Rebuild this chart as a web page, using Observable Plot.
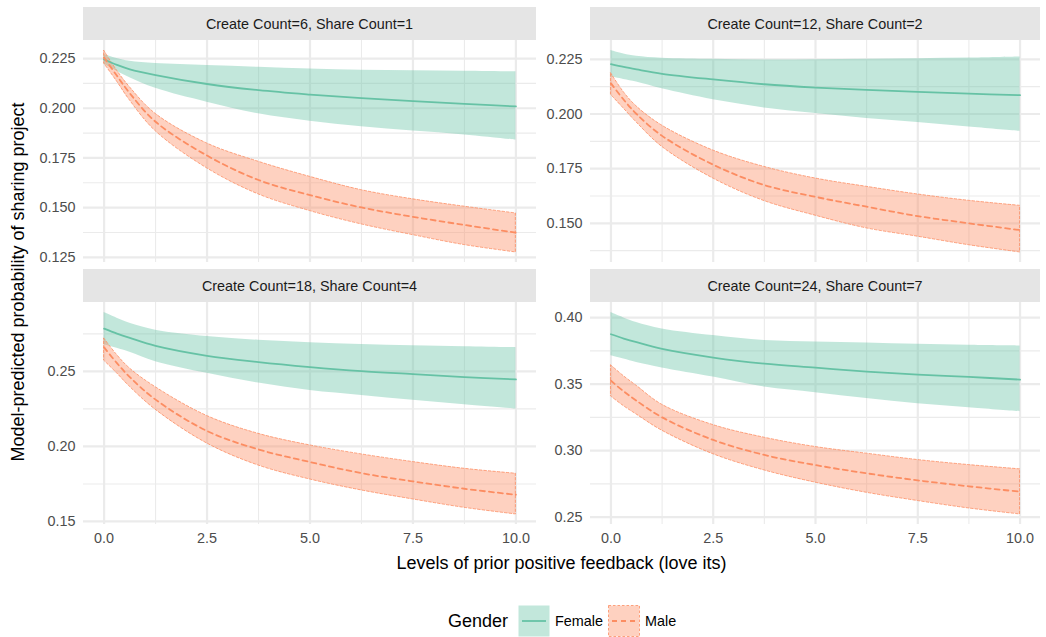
<!DOCTYPE html>
<html>
<head>
<meta charset="utf-8">
<script src="https://cdn.jsdelivr.net/npm/d3@7"></script>
<script src="https://cdn.jsdelivr.net/npm/@observablehq/plot@0.6"></script>
<style>
  html, body { margin: 0; padding: 0; background: #ffffff; }
  body { font-family: "Liberation Sans", Arial, Helvetica, sans-serif; }
  #chart { position: relative; width: 1046px; height: 637px; overflow: hidden; }
  .strip { position: absolute; background: #e5e5e5; color: #1a1a1a; font-size: 14.4px;
           display: flex; align-items: center; justify-content: center; }
  .panel { position: absolute; }
  .ytitle { position: absolute; width: 600px; height: 22px; line-height: 22px; text-align: center;
            font-size: 18px; color: #000; transform: rotate(-90deg); }
  .xtitle { position: absolute; height: 22px; line-height: 22px; text-align: center; font-size: 18px; color: #000; }
  .legend { position: absolute; top: 605px; left: 448px; height: 32px; display: flex; align-items: center; }
  .legend .ttl { font-size: 18px; color: #000; margin-right: 10px; }
  .legend .lab { font-size: 14.4px; color: #000; margin: 0 5px 0 5px; }
  .legend svg { display: block; }
</style>
</head>
<body>
<div id="chart"></div>
<script>
// ---------------- data ----------------
const feedback = [0, 0.3125, 0.625, 1.25, 2.5, 3.75, 5, 6.25, 7.5, 8.75, 10];
const panelTitles = [
  "Create Count=6, Share Count=1",
  "Create Count=12, Share Count=2",
  "Create Count=18, Share Count=4",
  "Create Count=24, Share Count=7"
];
const genders = ["Female", "Male"];

// Panel 1: Create Count=6, Share Count=1
const p1FemaleFit = [0.2245, 0.2218, 0.2196, 0.2167, 0.2122, 0.2091, 0.2069, 0.2051, 0.2036, 0.2022, 0.2009];
const p1FemaleLo  = [0.2222, 0.2186, 0.2153, 0.2100, 0.2030, 0.1972, 0.1935, 0.1907, 0.1885, 0.1866, 0.1840];
const p1FemaleHi  = [0.2270, 0.2250, 0.2236, 0.2225, 0.2215, 0.2206, 0.2197, 0.2191, 0.2188, 0.2186, 0.2183];
const p1MaleFit   = [0.2255, 0.2163, 0.2075, 0.1932, 0.1762, 0.1639, 0.1563, 0.1501, 0.1454, 0.1413, 0.1374];
const p1MaleLo    = [0.2225, 0.2135, 0.2040, 0.1885, 0.1698, 0.1567, 0.1483, 0.1416, 0.1362, 0.1312, 0.1275];
const p1MaleHi    = [0.2290, 0.2190, 0.2106, 0.1972, 0.1823, 0.1731, 0.1655, 0.1588, 0.1542, 0.1505, 0.1471];

// Panel 2: Create Count=12, Share Count=2
const p2FemaleFit = [0.2228, 0.2215, 0.2204, 0.2184, 0.2158, 0.2136, 0.2121, 0.2110, 0.2101, 0.2093, 0.2086];
const p2FemaleLo  = [0.2170, 0.2158, 0.2146, 0.2115, 0.2065, 0.2028, 0.2002, 0.1979, 0.1961, 0.1941, 0.1921];
const p2FemaleHi  = [0.2290, 0.2274, 0.2264, 0.2255, 0.2250, 0.2247, 0.2248, 0.2250, 0.2253, 0.2256, 0.2261];
const p2MaleFit   = [0.2140, 0.2065, 0.2000, 0.1900, 0.1768, 0.1675, 0.1621, 0.1576, 0.1533, 0.1500, 0.1469];
const p2MaleLo    = [0.2088, 0.2025, 0.1962, 0.1850, 0.1705, 0.1602, 0.1535, 0.1477, 0.1439, 0.1400, 0.1367];
const p2MaleHi    = [0.2187, 0.2100, 0.2035, 0.1947, 0.1833, 0.1758, 0.1705, 0.1667, 0.1632, 0.1603, 0.1580];

// Panel 3: Create Count=18, Share Count=4
const p3FemaleFit = [0.2785, 0.2752, 0.2723, 0.2670, 0.2604, 0.2562, 0.2529, 0.2502, 0.2482, 0.2462, 0.2447];
const p3FemaleLo  = [0.2680, 0.2654, 0.2628, 0.2565, 0.2487, 0.2422, 0.2373, 0.2340, 0.2307, 0.2278, 0.2249];
const p3FemaleHi  = [0.2892, 0.2855, 0.2821, 0.2775, 0.2733, 0.2707, 0.2691, 0.2680, 0.2671, 0.2664, 0.2658];
const p3MaleFit   = [0.2660, 0.2555, 0.2462, 0.2312, 0.2103, 0.1980, 0.1896, 0.1822, 0.1767, 0.1718, 0.1678];
const p3MaleLo    = [0.2572, 0.2488, 0.2398, 0.2245, 0.2020, 0.1873, 0.1780, 0.1707, 0.1647, 0.1591, 0.1547];
const p3MaleHi    = [0.2720, 0.2610, 0.2520, 0.2395, 0.2203, 0.2084, 0.2007, 0.1947, 0.1896, 0.1851, 0.1818];

// Panel 4: Create Count=24, Share Count=7
const p4FemaleFit = [0.3875, 0.3843, 0.3815, 0.3765, 0.3700, 0.3654, 0.3624, 0.3594, 0.3571, 0.3554, 0.3534];
const p4FemaleLo  = [0.3713, 0.3688, 0.3663, 0.3622, 0.3553, 0.3478, 0.3436, 0.3391, 0.3353, 0.3323, 0.3293];
const p4FemaleHi  = [0.4038, 0.3998, 0.3963, 0.3915, 0.3865, 0.3828, 0.3817, 0.3809, 0.3799, 0.3792, 0.3787];
const p4MaleFit   = [0.3525, 0.3445, 0.3375, 0.3250, 0.3080, 0.2967, 0.2891, 0.2829, 0.2776, 0.2731, 0.2691];
const p4MaleLo    = [0.3408, 0.3335, 0.3272, 0.3150, 0.2973, 0.2851, 0.2759, 0.2683, 0.2621, 0.2565, 0.2520];
const p4MaleHi    = [0.3642, 0.3560, 0.3488, 0.3345, 0.3192, 0.3097, 0.3027, 0.2977, 0.2929, 0.2891, 0.2859];

// Axis ticks and labels
const xTicks = [0, 2.5, 5, 7.5, 10];
const xTickLabels = ["0.0", "2.5", "5.0", "7.5", "10.0"];
const xMinor = [1.25, 3.75, 6.25, 8.75];

const p1YTicks = [0.125, 0.15, 0.175, 0.2, 0.225];
const p1YLabels = ["0.125", "0.150", "0.175", "0.200", "0.225"];
const p1YMinor = [0.1125, 0.1375, 0.1625, 0.1875, 0.2125, 0.2375];
const p2YTicks = [0.15, 0.175, 0.2, 0.225];
const p2YLabels = ["0.150", "0.175", "0.200", "0.225"];
const p2YMinor = [0.1375, 0.1625, 0.1875, 0.2125, 0.2375];
const p3YTicks = [0.15, 0.2, 0.25];
const p3YLabels = ["0.15", "0.20", "0.25"];
const p3YMinor = [0.175, 0.225, 0.275];
const p4YTicks = [0.25, 0.3, 0.35, 0.4];
const p4YLabels = ["0.25", "0.30", "0.35", "0.40"];
const p4YMinor = [0.275, 0.325, 0.375];

const colFemale = "#66c2a5";
const colMale = "#fc8d62";

// ---------------- build ----------------
function rowsFor(fit, lo, hi, g) {
  return feedback.map((xv, i) => ({ x: xv, fit: fit[i], lo: lo[i], hi: hi[i], gender: g }));
}

const panels = [
  { title: panelTitles[0], f: rowsFor(p1FemaleFit, p1FemaleLo, p1FemaleHi, genders[0]), m: rowsFor(p1MaleFit, p1MaleLo, p1MaleHi, genders[1]),
    ticks: p1YTicks, labels: p1YLabels, minor: p1YMinor, col: 0, row: 0 },
  { title: panelTitles[1], f: rowsFor(p2FemaleFit, p2FemaleLo, p2FemaleHi, genders[0]), m: rowsFor(p2MaleFit, p2MaleLo, p2MaleHi, genders[1]),
    ticks: p2YTicks, labels: p2YLabels, minor: p2YMinor, col: 1, row: 0 },
  { title: panelTitles[2], f: rowsFor(p3FemaleFit, p3FemaleLo, p3FemaleHi, genders[0]), m: rowsFor(p3MaleFit, p3MaleLo, p3MaleHi, genders[1]),
    ticks: p3YTicks, labels: p3YLabels, minor: p3YMinor, col: 0, row: 1 },
  { title: panelTitles[3], f: rowsFor(p4FemaleFit, p4FemaleLo, p4FemaleHi, genders[0]), m: rowsFor(p4MaleFit, p4MaleLo, p4MaleHi, genders[1]),
    ticks: p4YTicks, labels: p4YLabels, minor: p4YMinor, col: 1, row: 1 }
];

// layout (px)
const colLeft = [83, 590];
const colRight = [536, 1040];
const colSvgLeft = [0, 536];
const colSvgRight = [536, 1046];
const stripTop = [7, 269];
const stripH = 33;
const panelH = 222;

const chart = document.getElementById("chart");
const curve = "catmull-rom";

panels.forEach(p => {
  const vals = [...p.f, ...p.m].flatMap(d => [d.lo, d.hi]);
  const mn = d3.min(vals), mx = d3.max(vals);
  const pad = (mx - mn) * 0.05;
  const bottom = p.row === 1;
  const svgLeft = colSvgLeft[p.col];
  const width = colSvgRight[p.col] - svgLeft;
  const marginLeft = colLeft[p.col] - svgLeft;
  const marginRight = colSvgRight[p.col] - colRight[p.col];
  const marginBottom = bottom ? 32 : 0;

  const plot = Plot.plot({
    width, height: panelH + marginBottom,
    marginLeft, marginRight, marginTop: 0, marginBottom,
    style: { fontFamily: '"Liberation Sans", Arial, Helvetica, sans-serif', fontSize: "14.4px", color: "#4d4d4d", background: "transparent", overflow: "visible" },
    x: { domain: [-0.5, 10.5], ticks: xTicks, tickFormat: d => xTickLabels[xTicks.indexOf(d)], tickSize: 0, tickPadding: 8, label: null, axis: bottom ? "bottom" : null },
    y: { domain: [mn - pad, mx + pad], ticks: p.ticks, tickFormat: d => p.labels[p.ticks.indexOf(d)], tickSize: 0, tickPadding: 8, label: null },
    marks: [
      Plot.ruleY(p.minor.filter(v => v > mn - pad && v < mx + pad), { stroke: "#ebebeb", strokeWidth: 1.1 }),
      Plot.ruleX(xMinor, { stroke: "#ebebeb", strokeWidth: 1.1 }),
      Plot.ruleY(p.ticks, { stroke: "#ebebeb", strokeWidth: 2.2 }),
      Plot.ruleX(xTicks, { stroke: "#ebebeb", strokeWidth: 2.2 }),
      Plot.areaY(p.f, { x: "x", y1: "lo", y2: "hi", fill: colFemale, fillOpacity: 0.4, curve }),
      Plot.areaY(p.m, { x: "x", y1: "lo", y2: "hi", fill: colMale, fillOpacity: 0.4, stroke: colMale, strokeWidth: 0.8, strokeDasharray: "2.5,2", curve }),
      Plot.lineY(p.f, { x: "x", y: "fit", stroke: colFemale, strokeWidth: 1.8, curve }),
      Plot.lineY(p.m, { x: "x", y: "fit", stroke: colMale, strokeWidth: 1.8, strokeDasharray: "5,4", curve })
    ]
  });
  plot.classList.add("panel");
  plot.style.left = svgLeft + "px";
  plot.style.top = (stripTop[p.row] + stripH) + "px";
  chart.appendChild(plot);

  const strip = document.createElement("div");
  strip.className = "strip";
  strip.style.left = colLeft[p.col] + "px";
  strip.style.top = stripTop[p.row] + "px";
  strip.style.width = (colRight[p.col] - colLeft[p.col]) + "px";
  strip.style.height = stripH + "px";
  strip.textContent = p.title;
  chart.appendChild(strip);
});

// axis titles
const yt = document.createElement("div");
yt.className = "ytitle";
yt.textContent = "Model-predicted probability of sharing project";
yt.style.left = (18 - 300) + "px";
yt.style.top = (282 - 11) + "px";
chart.appendChild(yt);

const xt = document.createElement("div");
xt.className = "xtitle";
xt.textContent = "Levels of prior positive feedback (love its)";
xt.style.left = "83px";
xt.style.width = (1040 - 83) + "px";
xt.style.top = (563 - 11) + "px";
chart.appendChild(xt);

// legend
const legend = document.createElement("div");
legend.className = "legend";
const ns = "http://www.w3.org/2000/svg";
function key(color, dashed) {
  const s = document.createElementNS(ns, "svg");
  s.setAttribute("width", 32); s.setAttribute("height", 32);
  const r = document.createElementNS(ns, "rect");
  r.setAttribute("x", 0.5); r.setAttribute("y", 0.5); r.setAttribute("width", 31); r.setAttribute("height", 31);
  r.setAttribute("fill", color); r.setAttribute("fill-opacity", 0.4);
  if (dashed) { r.setAttribute("stroke", color); r.setAttribute("stroke-width", 0.8); r.setAttribute("stroke-dasharray", "2.5,2"); }
  s.appendChild(r);
  const l = document.createElementNS(ns, "line");
  l.setAttribute("x1", 4); l.setAttribute("x2", 28); l.setAttribute("y1", 16); l.setAttribute("y2", 16);
  l.setAttribute("stroke", color); l.setAttribute("stroke-width", 1.8);
  if (dashed) l.setAttribute("stroke-dasharray", "5,4");
  s.appendChild(l);
  return s;
}
const lt = document.createElement("span"); lt.className = "ttl"; lt.textContent = "Gender"; legend.appendChild(lt);
legend.appendChild(key(colFemale, false));
const l1 = document.createElement("span"); l1.className = "lab"; l1.textContent = genders[0]; legend.appendChild(l1);
legend.appendChild(key(colMale, true));
const l2 = document.createElement("span"); l2.className = "lab"; l2.textContent = genders[1]; legend.appendChild(l2);
chart.appendChild(legend);
</script>
</body>
</html>
